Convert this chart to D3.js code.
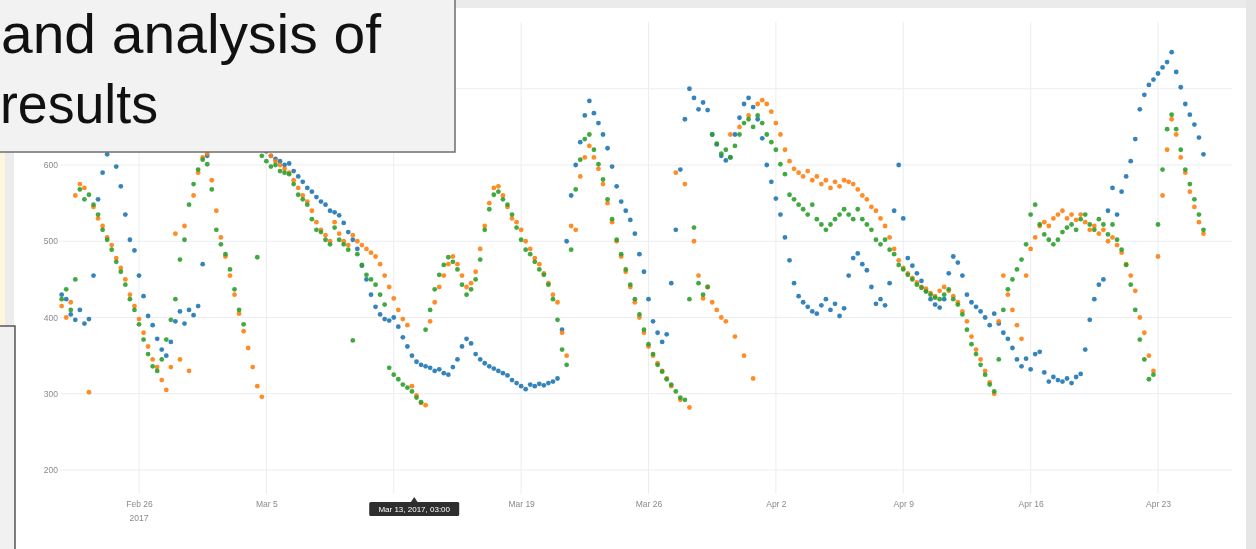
<!DOCTYPE html>
<html><head><meta charset="utf-8">
<script src="https://cdn.jsdelivr.net/npm/d3@7"></script>
<style>html,body{margin:0;padding:0;background:#fff;overflow:hidden}</style>
</head><body>
<svg id="c" width="1256" height="549"></svg>
<script>
// ---- data (6-hourly samples starting Feb 21 2017 18:00) ----
const seriesStart = new Date(2017, 1, 21, 18);
const stepHours = 6;
const blueValues = [
430,424,404,397, 410,392,398,455, 555,590,614,632, 598,572,535,502,
488,455,428,402, 390,372,358,350, 368,395,408,392, 410,403,415,470,
612,650,668,680, 672,660,668,655, 648,640,635,628, 622,618,612,608,
605,600,602,592, 585,578,570,565, 558,552,548,540, 538,534,524,512,
502,490,468,450, 430,414,404,398, 396,400,388,374, 362,350,342,338,
336,334,330,332, 327,325,335,345, 362,372,366,352, 345,340,336,333,
330,327,324,318, 314,310,306,312, 310,313,311,314, 316,320,384,500,
560,600,630,665, 684,668,655,640, 622,598,572,552, 540,528,510,483,
460,424,395,380, 368,378,445,515, 594,660,700,688, 673,682,672,640,
627,612,606,610, 640,662,680,688, 676,660,635,600, 578,556,535,505,
475,445,428,420, 414,408,405,416, 424,410,418,402, 412,455,478,484,
470,462,440,418, 424,416,445,540, 600,530,478,468, 458,448,435,424,
417,413,424,458, 480,472,455,430, 420,414,408,400, 390,405,392,380,
372,360,345,336, 346,332,352,355, 328,316,322,318, 316,320,314,322,
326,358,397,424, 443,450,540,570, 535,565,585,605, 634,673,692,705,
712,720,728,735, 748,722,702,680, 666,653,636,614
];
const orangeValues = [
415,400,420,560, 575,570,302,545, 530,520,505,495, 478,465,450,430,
415,398,380,362, 345,335,318,305, 335,510,345,520, 330,560,590,610,
615,580,540,505, 480,455,430,405, 382,360,335,310, 296,618,612,605,
600,595,590,580, 570,560,552,540, 525,515,508,500, 525,510,500,495,
508,500,495,490, 485,480,470,455, 440,425,410,398, 390,310,298,288,
285,395,420,440, 455,470,480,470, 455,440,445,460, 490,520,550,570,
572,560,545,530, 525,515,500,490, 478,470,458,445, 430,420,380,350,
520,515,585,610, 625,610,595,575, 550,525,500,480, 460,440,420,400,
380,362,350,340, 330,320,310,590, 292,575,282,500, 455,425,440,420,
410,400,395,640, 375,650,350,665, 320,680,685,680, 670,655,640,620,
605,595,590,585, 592,580,585,575, 580,570,578,572, 580,578,575,568,
560,555,545,540, 530,520,505,490, 475,465,458,452, 446,440,438,432,
428,435,440,435, 428,420,408,395, 375,358,345,330, 315,300,395,455,
430,410,390,372, 455,490,505,520, 525,520,530,535, 540,530,535,528,
535,525,515,520, 510,515,500,505, 495,485,470,455, 435,400,380,350,
330,480,560,620, 660,640,610,590, 565,545,525,510
];
const greenValues = [
424,437,410,450, 568,555,561,548, 535,515,502,489, 473,460,443,424,
410,391,371,352, 336,330,345,371, 397,424,476,502, 548,575,594,607,
601,568,515,496, 483,463,437,410, 391,null,null,479, 612,605,598,600,
592,590,588,575, 561,555,548,529, 515,512,502,496, 518,502,496,489,
370,483,469,456, 450,443,430,417, 334,325,319,312, 308,303,295,289,
384,410,437,456, 469,479,473,463, 443,430,437,450, 476,515,542,561,
565,555,548,535, 518,502,489,483, 473,463,456,443, 424,397,358,338,
489,568,607,634, 640,620,601,581, 555,529,502,483, 463,443,424,404,
384,365,352,338, 329,319,312,303, 295,292,424,518, 445,430,440,640,
628,615,620,610, 625,640,655,660, 650,665,655,640, 630,620,601,588,
561,555,548,542, 535,548,529,522, 515,522,529,535, 542,535,529,542,
529,522,515,502, 496,502,489,483, 469,463,456,450, 443,439,434,430,
426,424,430,437, 424,417,404,384, 365,352,338,325, 312,303,345,410,
437,450,463,476, 496,535,548,522, 509,502,496,502, 512,518,522,515,
529,535,522,515, 529,522,509,522, 502,489,469,443, 410,371,345,319,
325,522,594,647, 666,647,620,594, 575,555,535,515
];
const seriesColors = ["#1f77b4", "#ff7f0e", "#2ca02c"];
const yGrid = [200, 300, 400, 500, 600, 700];
const yTickLabels = [200, 300, 400, 500, 600];
const xTickDates = [new Date(2017,1,26), new Date(2017,2,5), new Date(2017,2,12), new Date(2017,2,19),
  new Date(2017,2,26), new Date(2017,3,2), new Date(2017,3,9), new Date(2017,3,16), new Date(2017,3,23)];
const xTickLabels = ["Feb 26", "Mar 5", "Mar 12", "Mar 19", "Mar 26", "Apr 2", "Apr 9", "Apr 16", "Apr 23"];
const yearLabel = "2017";
const hoverDate = new Date(2017, 2, 13, 3);
const hoverText = "Mar 13, 2017, 03:00";
const titleLines = ["and analysis of", "results"];

// ---- drawing ----
const W = 1256, H = 549;
const svg = d3.select("#c");
const defs = svg.append("defs");
defs.append("filter").attr("id", "soft").append("feGaussianBlur").attr("stdDeviation", 0.65);

svg.append("rect").attr("width", W).attr("height", H).attr("fill", "#ffffff");
svg.append("rect").attr("x", 0).attr("y", 0).attr("width", W).attr("height", 8).attr("fill", "#ebebeb");
svg.append("rect").attr("x", 1246).attr("y", 0).attr("width", 10).attr("height", H).attr("fill", "#e6e6e6");

const x = d3.scaleTime().domain([xTickDates[0], xTickDates[8]]).range([139, 1158]);
const y = d3.scaleLinear().domain([200, 600]).range([470, 165]);
const plotL = 60, plotR = 1232, plotT = 22, plotB = 494;

const chart = svg.append("g").attr("filter", "url(#soft)");

// grid
chart.append("g").selectAll("line").data(yGrid).join("line")
  .attr("x1", plotL).attr("x2", plotR)
  .attr("y1", d => y(d)).attr("y2", d => y(d))
  .attr("stroke", "#ebedf2").attr("stroke-width", 1);
chart.append("g").selectAll("line").data(xTickDates).join("line")
  .attr("x1", d => x(d)).attr("x2", d => x(d))
  .attr("y1", plotT).attr("y2", plotB)
  .attr("stroke", "#ebedf2").attr("stroke-width", 1);

// y axis labels
const yAxis = d3.axisLeft(y).tickValues(yTickLabels).tickSize(0).tickPadding(0).tickFormat(d3.format("d"));
const gy = chart.append("g").attr("transform", "translate(58,0)").call(yAxis);
gy.select(".domain").remove();
gy.selectAll("text").attr("font-family", "Liberation Sans, Arial, sans-serif").attr("font-size", 8.5).attr("fill", "#8a8a8a");

// x axis labels (the one under the hover label is hidden by it)
const hx = x(hoverDate);
const xAxis = d3.axisBottom(x).tickValues(xTickDates).tickSize(0).tickPadding(0)
  .tickFormat((d, i) => Math.abs(x(d) - hx) < 50 ? "" : xTickLabels[i]);
const gx = chart.append("g").attr("transform", "translate(0,501)").call(xAxis);
gx.select(".domain").remove();
gx.selectAll("text").attr("font-family", "Liberation Sans, Arial, sans-serif").attr("font-size", 8.5).attr("fill", "#8a8a8a");
gx.append("text").attr("x", x(xTickDates[0])).attr("y", 20).attr("text-anchor", "middle")
  .attr("font-family", "Liberation Sans, Arial, sans-serif").attr("font-size", 8.5).attr("fill", "#8a8a8a").text(yearLabel);

// points
const timeAt = i => d3.timeHour.offset(seriesStart, i * stepHours);
[blueValues, orangeValues, greenValues].forEach((vals, k) => {
  const pts = vals.map((v, i) => ({t: timeAt(i), v})).filter(p => p.v !== null);
  chart.append("g").selectAll("circle").data(pts).join("circle")
    .attr("cx", p => x(p.t)).attr("cy", p => y(p.v)).attr("r", 2.4)
    .attr("fill", seriesColors[k]).attr("fill-opacity", 0.9);
});

// hover label on x axis
const hov = chart.append("g");
hov.append("path").attr("d", `M${hx-4},503 L${hx},497 L${hx+4},503 Z`).attr("fill", "#333");
hov.append("rect").attr("x", hx - 45).attr("y", 502).attr("width", 90).attr("height", 14).attr("rx", 1.5).attr("fill", "#2f2f2f");
hov.append("text").attr("x", hx).attr("y", 512).attr("text-anchor", "middle")
  .attr("font-family", "Liberation Sans, Arial, sans-serif").attr("font-size", 8).attr("fill", "#ffffff").text(hoverText);

// left slide strips / boxes
svg.append("rect").attr("x", 0).attr("y", 0).attr("width", 5).attr("height", H).attr("fill", "#fcf6da");
svg.append("rect").attr("x", 5).attr("y", 0).attr("width", 9).attr("height", H).attr("fill", "#ececec");
svg.append("rect").attr("x", -10).attr("y", 326).attr("width", 25).attr("height", 240)
  .attr("fill", "#f1f1f1").attr("stroke", "#555").attr("stroke-width", 1.5);

// title box overlay
svg.append("rect").attr("x", -10).attr("y", -10).attr("width", 465).attr("height", 162)
  .attr("fill", "#f2f2f2").attr("stroke", "#6e6e6e").attr("stroke-width", 1.5);
const tt = svg.append("g").attr("font-family", "Liberation Sans, Helvetica, Arial, sans-serif")
  .attr("font-size", 55).attr("fill", "#111");
tt.append("text").attr("x", 1).attr("y", 53).attr("textLength", 380).attr("lengthAdjust", "spacingAndGlyphs").text(titleLines[0]);
tt.append("text").attr("x", 0).attr("y", 123).attr("textLength", 158).attr("lengthAdjust", "spacingAndGlyphs").text(titleLines[1]);
</script>
</body></html>
